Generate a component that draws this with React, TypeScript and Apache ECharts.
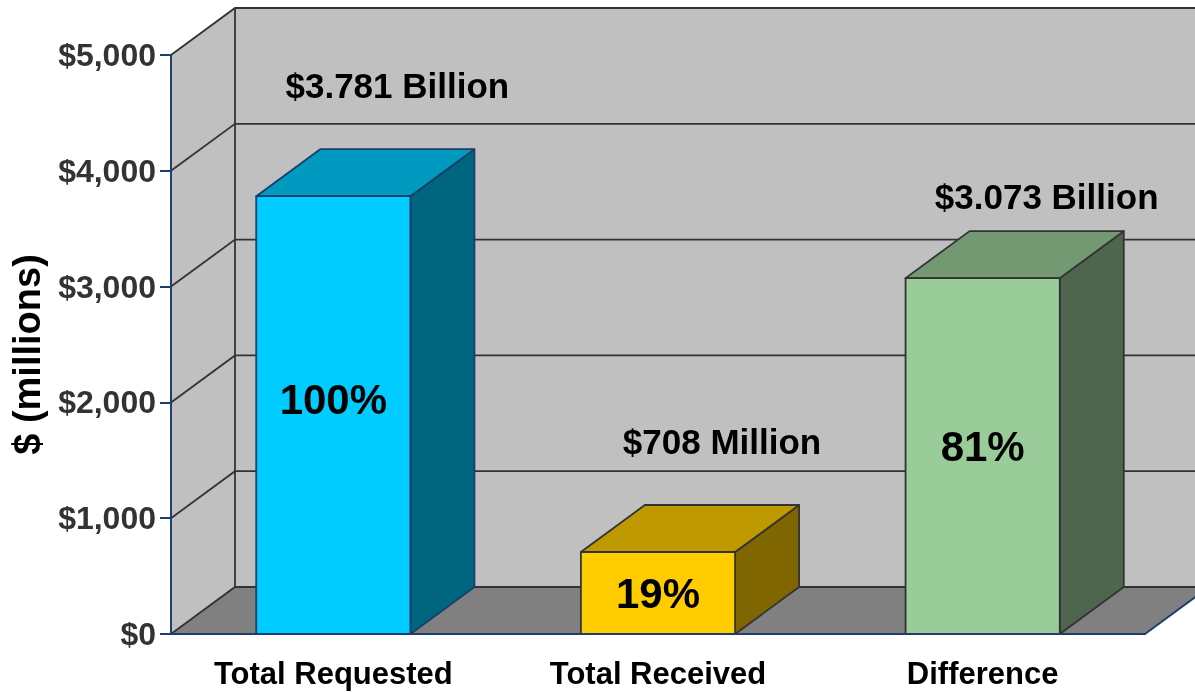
import React, { useEffect, useRef } from "react";
import * as echarts from "echarts";

const CATEGORIES = ["Total Requested", "Total Received", "Difference"];
const VALUES = [3781, 708, 3073];
const VALUE_LABELS = ["$3.781 Billion", "$708 Million", "$3.073 Billion"];
const PERCENT_LABELS = ["100%", "19%", "81%"];
const Y_MIN = 0;
const Y_MAX = 5000;
const Y_STEP = 1000;
const AXIS_NAME = "$ (millions)";

// styling
const FRONT = ["#00CCFF", "#FFCC00", "#99CC99"];
const TOP = ["#0099BF", "#BF9900", "#739973"];
const SIDE = ["#006680", "#806600", "#4D664D"];
const EDGE = ["#1b3d6b", "#333333", "#333333"];
const LABEL_LIFT = [64, 64, 35];
const PCT_SHIFT = [-16, 0, -10];
const NAVY = "#1c3f6e";
const FONT = 'Arial, "Liberation Sans", Helvetica, sans-serif';
const DX = 64;
const DY = -47;

export default function App() {
  const ref = useRef<HTMLDivElement>(null);
  useEffect(() => {
    if (!ref.current) return;
    const chart = echarts.init(ref.current, null, { renderer: "svg" });
    const ticks: number[] = [];
    for (let v = Y_MIN; v <= Y_MAX; v += Y_STEP) ticks.push(v);

    const wallsRender = (params: any, api: any) => {
      const cs = params.coordSys;
      const left = cs.x;
      const right = cs.x + cs.width;
      const top = cs.y;
      const bottom = cs.y + cs.height;
      const children: any[] = [];
      children.push({
        type: "polygon",
        shape: { points: [[left, bottom], [left, top], [left + DX, top + DY], [left + DX, bottom + DY]] },
        style: { fill: "#C0C0C0" },
      });
      children.push({
        type: "polygon",
        shape: { points: [[left + DX, top + DY], [right + DX + 40, top + DY], [right + DX + 40, bottom + DY], [left + DX, bottom + DY]] },
        style: { fill: "#C0C0C0" },
      });
      children.push({
        type: "polygon",
        shape: { points: [[left, bottom], [right, bottom], [right + DX, bottom + DY], [left + DX, bottom + DY]] },
        style: { fill: "#808080" },
      });
      ticks.forEach((v) => {
        const y = api.coord([0, v])[1];
        children.push({
          type: "polyline",
          shape: { points: [[left, y], [left + DX, y + DY], [right + DX + 40, y + DY]] },
          style: { stroke: "#333333", lineWidth: 1.8, fill: "none" },
        });
      });
      children.push({
        type: "line",
        shape: { x1: left + DX, y1: top + DY, x2: left + DX, y2: bottom + DY },
        style: { stroke: "#333333", lineWidth: 1.8 },
      });
      children.push({
        type: "line",
        shape: { x1: right, y1: bottom, x2: right + DX, y2: bottom + DY },
        style: { stroke: NAVY, lineWidth: 2 },
      });
      return { type: "group", children };
    };

    const barsRender = (params: any, api: any) => {
      const i = params.dataIndex;
      const cat = api.value(0);
      const val = api.value(1);
      const base = api.coord([cat, Y_MIN]);
      const topPt = api.coord([cat, val]);
      const bw = api.size([1, 0])[0] * 0.475;
      const x0 = base[0] - bw / 2;
      const x1 = base[0] + bw / 2;
      const yT = topPt[1];
      const yB = base[1];
      const edge = { stroke: EDGE[i], lineWidth: 1.8, lineJoin: "round" };
      return {
        type: "group",
        children: [
          {
            type: "polygon",
            shape: { points: [[x1, yT], [x1 + DX, yT + DY], [x1 + DX, yB + DY], [x1, yB]] },
            style: { fill: SIDE[i], ...edge },
          },
          {
            type: "polygon",
            shape: { points: [[x0, yT], [x1, yT], [x1 + DX, yT + DY], [x0 + DX, yT + DY]] },
            style: { fill: TOP[i], ...edge },
          },
          {
            type: "polygon",
            shape: { points: [[x0, yT], [x1, yT], [x1, yB], [x0, yB]] },
            style: { fill: FRONT[i], ...edge },
          },
          {
            type: "text",
            x: base[0],
            y: (yT + yB) / 2 + PCT_SHIFT[i],
            style: {
              text: PERCENT_LABELS[i],
              fill: "#000",
              fontSize: 42,
              fontWeight: "bold",
              fontFamily: FONT,
              align: "center",
              verticalAlign: "middle",
            },
          },
          {
            type: "text",
            x: base[0] + DX,
            y: yT + DY - LABEL_LIFT[i],
            style: {
              text: VALUE_LABELS[i],
              fill: "#000",
              fontSize: 35,
              fontWeight: "bold",
              fontFamily: FONT,
              align: "center",
              verticalAlign: "middle",
            },
          },
        ],
      };
    };

    chart.setOption({
      animation: false,
      grid: { left: 171, right: 50, top: 55, bottom: 58 },
      xAxis: {
        type: "category",
        data: CATEGORIES,
        z: 5,
        axisLine: { lineStyle: { color: NAVY, width: 2 } },
        axisTick: { length: 11, lineStyle: { color: NAVY, width: 2 } },
        axisLabel: { fontSize: 31, fontWeight: "bold", color: "#000", fontFamily: FONT, margin: 24 },
      },
      yAxis: {
        type: "value",
        min: Y_MIN,
        max: Y_MAX,
        interval: Y_STEP,
        z: 5,
        axisLine: { show: true, lineStyle: { color: NAVY, width: 2 } },
        axisTick: { show: true, length: 11, lineStyle: { color: NAVY, width: 2 } },
        splitLine: { show: false },
        axisLabel: {
          formatter: (v: number) => "$" + v.toLocaleString("en-US"),
          fontSize: 32,
          fontWeight: "bold",
          color: "#333333",
          fontFamily: FONT,
          margin: 15,
        },
        name: AXIS_NAME,
        nameLocation: "middle",
        nameGap: 125,
        nameTextStyle: { fontSize: 38, fontWeight: "bold", color: "#000", fontFamily: FONT, padding: [0, 20, 0, 0] },
      },
      series: [
        {
          type: "custom",
          name: "walls",
          z: 1,
          silent: true,
          data: [[0, 0]],
          renderItem: wallsRender,
        },
        {
          type: "custom",
          name: "bars",
          z: 2,
          data: VALUES.map((v, i) => [i, v]),
          encode: { x: 0, y: 1 },
          renderItem: barsRender,
        },
      ],
    });
    return () => chart.dispose();
  }, []);
  return <div ref={ref} style={{ position: "fixed", left: 0, top: 0, width: 1195, height: 692 }} />;
}
